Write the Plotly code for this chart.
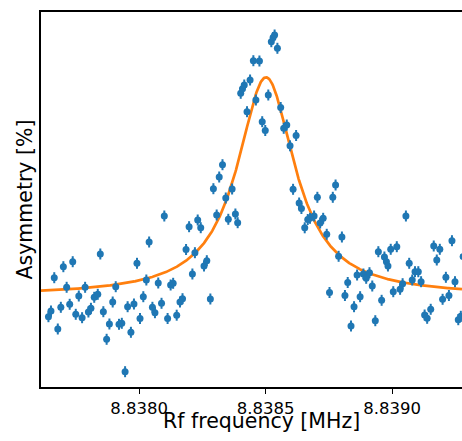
import numpy as np
import plotly.graph_objects as go

# Measured rf scan: frequency (MHz) and asymmetry (%)
freq_mhz = [
    8.837642, 8.837652, 8.837665, 8.837679, 8.837691, 8.837701, 8.837714, 8.837726, 8.837738, 8.837750,
    8.837762, 8.837775, 8.837787, 8.837800, 8.837810, 8.837823, 8.837837, 8.837847, 8.837859, 8.837872,
    8.837883, 8.837896, 8.837908, 8.837921, 8.837932, 8.837945, 8.837955, 8.837968, 8.837980, 8.837992,
    8.838004, 8.838017, 8.838029, 8.838040, 8.838053, 8.838063, 8.838076, 8.838089, 8.838100, 8.838113,
    8.838125, 8.838135, 8.838149, 8.838162, 8.838172, 8.838186, 8.838198, 8.838211, 8.838221, 8.838232,
    8.838244, 8.838257, 8.838268, 8.838282, 8.838294, 8.838307, 8.838317, 8.838330, 8.838343, 8.838353,
    8.838368, 8.838381, 8.838390, 8.838402, 8.838409, 8.838416, 8.838427, 8.838439, 8.838452, 8.838462,
    8.838476, 8.838487, 8.838499, 8.838511, 8.838523, 8.838530, 8.838536, 8.838547, 8.838560, 8.838572,
    8.838584, 8.838597, 8.838609, 8.838621, 8.838633, 8.838642, 8.838655, 8.838667, 8.838676, 8.838692,
    8.838705, 8.838716, 8.838728, 8.838742, 8.838753, 8.838766, 8.838777, 8.838789, 8.838802, 8.838814,
    8.838825, 8.838838, 8.838850, 8.838862, 8.838874, 8.838887, 8.838898, 8.838911, 8.838922, 8.838934,
    8.838946, 8.838959, 8.838970, 8.838978, 8.838984, 8.838995, 8.839005, 8.839019, 8.839032, 8.839042,
    8.839055, 8.839068, 8.839080, 8.839091, 8.839104, 8.839115, 8.839129, 8.839139, 8.839153, 8.839165,
    8.839177, 8.839189, 8.839200, 8.839213, 8.839225, 8.839237, 8.839249, 8.839262, 8.839272, 8.839281,
]

asym_pct = [
    9.666, 9.780, 10.446, 9.420, 9.854, 10.666, 10.254, 9.914, 10.766, 9.714,
    10.080, 9.646, 10.254, 9.760, 9.834, 10.054, 10.114, 10.920, 9.766, 9.214,
    9.520, 9.960, 10.266, 9.514, 9.534, 8.566, 9.866, 9.354, 9.920, 10.734,
    9.630, 10.066, 10.400, 11.160, 9.854, 9.746, 10.340, 9.934, 11.680, 9.630,
    10.300, 10.334, 9.696, 9.960, 10.026, 11.010, 11.466, 10.520, 10.946, 11.600,
    11.446, 10.680, 10.786, 10.020, 12.226, 11.700, 12.460, 12.706, 12.040, 11.614,
    12.220, 11.720, 11.546, 14.134, 14.226, 14.300, 13.766, 14.400, 14.786, 14.000,
    14.780, 13.566, 13.390, 14.100, 15.166, 15.250, 15.300, 15.034, 13.850, 13.434,
    13.500, 13.084, 12.214, 13.290, 11.940, 11.830, 11.444, 11.610, 11.634, 11.680,
    12.054, 11.540, 11.634, 11.314, 10.150, 12.054, 12.300, 10.874, 11.260, 10.090,
    10.350, 9.480, 9.866, 10.500, 10.066, 10.520, 10.434, 10.546, 10.280, 9.586,
    10.966, 9.994, 10.860, 10.766, 10.680, 11.014, 10.166, 11.066, 10.214, 10.326,
    11.680, 10.734, 10.400, 10.566, 10.566, 10.366, 9.700, 9.634, 9.814, 11.080,
    10.800, 11.014, 10.014, 10.454, 10.090, 11.186, 10.366, 9.606, 9.674, 10.866,
]

ASYM_ERR = 0.11

# Lorentzian fit parameters
FIT_F0 = 8.838502
FIT_GAMMA = 0.0001383
FIT_AMP = 4.371
FIT_OFFSET = 10.083

X_RANGE = [8.8376126, 8.8392767]
Y_RANGE = [8.26, 15.76]
X_TICKS = [8.8380, 8.8385, 8.8390]
X_TICK_TEXT = ["8.8380", "8.8385", "8.8390"]

f_fit = np.linspace(X_RANGE[0], X_RANGE[1], 800)
a_fit = FIT_OFFSET + FIT_AMP * FIT_GAMMA**2 / ((f_fit - FIT_F0) ** 2 + FIT_GAMMA**2)

BLUE = "#1f77b4"
ORANGE = "#ff7f0e"
FONT = "DejaVu Sans"

fig = go.Figure()
fig.add_trace(go.Scatter(
    x=f_fit, y=a_fit, mode="lines",
    line=dict(color=ORANGE, width=2.7),
    hoverinfo="skip", showlegend=False,
))
fig.add_trace(go.Scatter(
    x=freq_mhz, y=asym_pct, mode="markers",
    marker=dict(color=BLUE, size=7, line=dict(width=0)),
    error_y=dict(type="constant", value=ASYM_ERR, thickness=2, width=0, color=BLUE),
    showlegend=False,
))

fig.update_layout(
    width=462, height=441,
    margin=dict(l=41, r=0, t=12, b=54),
    paper_bgcolor="white", plot_bgcolor="white",
    font=dict(family=FONT, color="black", size=16.5),
    xaxis=dict(
        range=X_RANGE, showgrid=False, zeroline=False,
        showline=True, linecolor="black", linewidth=1.5, mirror=True,
        ticks="outside", ticklen=5, tickwidth=1.3, tickcolor="black",
        tickvals=X_TICKS, ticktext=X_TICK_TEXT,
        tickfont=dict(family=FONT, size=16.5, color="black"),
    ),
    yaxis=dict(
        range=Y_RANGE, showgrid=False, zeroline=False,
        showline=True, linecolor="black", linewidth=1.5,
        ticks="", showticklabels=False,
    ),
    annotations=[
        dict(text="Rf frequency [MHz]", xref="paper", yref="paper",
             x=0.524, y=0, xanchor="center", yanchor="top", yshift=-20,
             showarrow=False, font=dict(family=FONT, size=20.5, color="black")),
        dict(text="Asymmetry [%]", xref="paper", yref="paper",
             x=0, y=0.5, xanchor="center", yanchor="middle", xshift=-17,
             textangle=-90, showarrow=False,
             font=dict(family=FONT, size=20.5, color="black")),
    ],
)

fig.write_html(
    "out.html",
    config={"displayModeBar": False},
    post_script="document.body.style.margin='0';document.body.style.overflow='hidden';",
)
